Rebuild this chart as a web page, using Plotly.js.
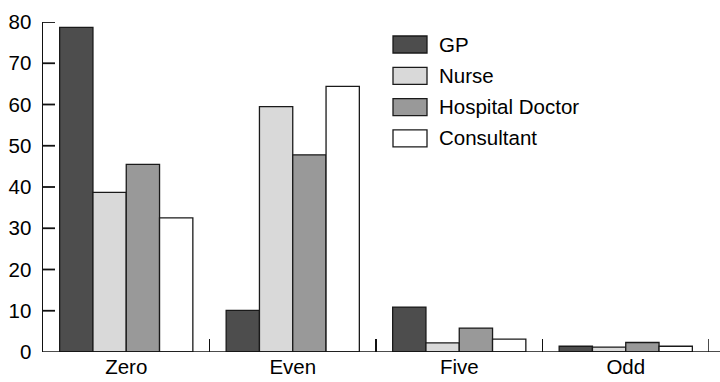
<!DOCTYPE html>
<html>
<head>
<meta charset="utf-8">
<script src="https://cdn.plot.ly/plotly-3.0.1.min.js"></script>
<style>html,body{margin:0;padding:0;background:#fff;}#chart{width:720px;height:382px;}</style>
</head>
<body>
<div id="chart"></div>
<script>
const categories = ["Zero", "Even", "Five", "Odd"];
const seriesNames = ["GP", "Nurse", "Hospital Doctor", "Consultant"];
const gpValues = [78.7, 10.1, 10.9, 1.4];
const nurseValues = [38.7, 59.5, 2.2, 1.2];
const hospitalDoctorValues = [45.5, 47.8, 5.8, 2.3];
const consultantValues = [32.5, 64.4, 3.1, 1.4];
const yTickValues = [0, 10, 20, 30, 40, 50, 60, 70, 80];

const allValues = [gpValues, nurseValues, hospitalDoctorValues, consultantValues];
const colors = ["#4d4d4d", "#d9d9d9", "#999999", "#ffffff"];

const W = 720, H = 382;
const M = {l: 43, r: 11, t: 22, b: 30};
const pw = W - M.l - M.r, ph = H - M.t - M.b;
const px = x => (x - M.l) / pw;
const py = y => (H - M.b - y) / ph;
const FONT = "Liberation Sans, Arial, Helvetica, sans-serif";

const traces = seriesNames.map((name, i) => ({
  type: "bar",
  name: name,
  x: categories,
  y: allValues[i],
  marker: {color: colors[i], line: {color: "#1a1a1a", width: 1.3}},
  hoverinfo: "skip"
}));

// baseline extending slightly past the plot area, as in the original
const shapes = [{
  type: "line", xref: "paper", yref: "y", x0: 0, x1: (W - M.l) / pw, y0: 0, y1: 0,
  line: {color: "#111", width: 1.5}
}];
// inside y tick marks (12 px long) at each tick value
yTickValues.slice(1).forEach(v => {
  shapes.push({
    type: "line", xref: "paper", yref: "y", x0: 0, x1: 12 / pw, y0: v, y1: v,
    line: {color: "#111", width: 1.8}
  });
});
// closing boundary tick at the right end of the category axis
shapes.push({
  type: "line", xref: "x", yref: "paper", x0: categories.length - 0.5, x1: categories.length - 0.5,
  y0: 0, y1: 13 / ph, line: {color: "#111", width: 1.5}
});

const annotations = [];
seriesNames.forEach((name, i) => {
  const top = 36 + i * 31.3;
  shapes.push({
    type: "rect", xref: "paper", yref: "paper",
    x0: px(393), x1: px(427), y0: py(top + 17), y1: py(top),
    fillcolor: colors[i], line: {color: "#1a1a1a", width: 1.3}
  });
  annotations.push({
    xref: "paper", yref: "paper", x: px(437), y: py(top + 8),
    xanchor: "left", yanchor: "middle", text: name, showarrow: false,
    font: {family: FONT, size: 20.5, color: "#000"}
  });
});

const layout = {
  width: W, height: H,
  margin: M,
  paper_bgcolor: "#fff", plot_bgcolor: "#fff",
  barmode: "group", bargap: 0.2, bargroupgap: 0,
  showlegend: false,
  font: {family: FONT, size: 20.5, color: "#000"},
  xaxis: {
    type: "category", range: [-0.5, 3.5],
    tickson: "boundaries", ticks: "inside", ticklen: 13, tickwidth: 1.5, tickcolor: "#111",
    showline: false, showgrid: false, zeroline: false,
    tickfont: {size: 20.5}
  },
  yaxis: {
    range: [0, 80], tickvals: yTickValues,
    ticks: "outside", ticklen: 6, tickwidth: 1, tickcolor: "rgba(0,0,0,0)",
    showline: true, linecolor: "#111", linewidth: 1.5,
    showgrid: false, zeroline: false,
    tickfont: {size: 20.5}
  },
  shapes: shapes,
  annotations: annotations
};

Plotly.newPlot("chart", traces, layout, {staticPlot: true});
</script>
</body>
</html>
